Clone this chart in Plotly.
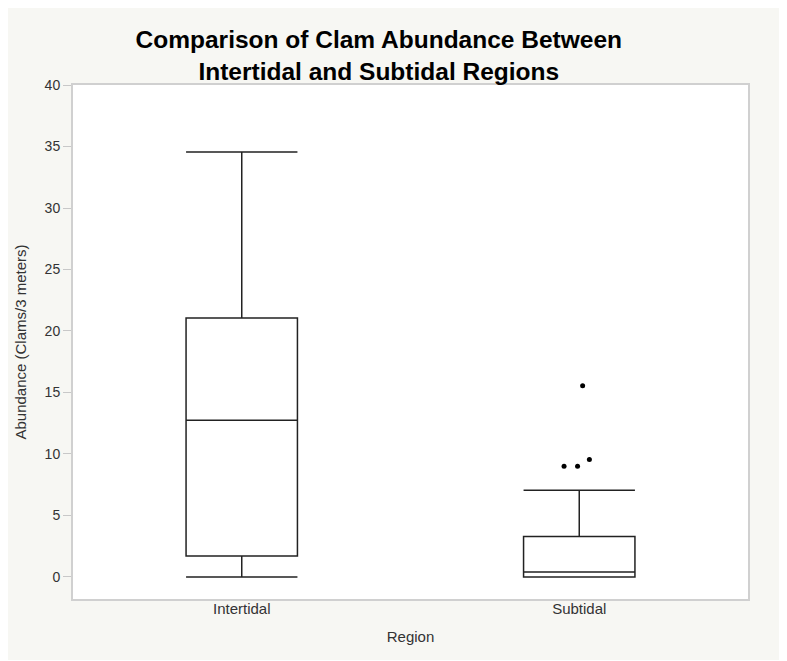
import plotly.graph_objects as go

# Data
regions = ["Intertidal", "Subtidal"]
lower_whisker = [0.0, 0.0]
q1 = [1.7, 0.0]
median = [12.75, 0.4]
q3 = [21.05, 3.3]
upper_whisker = [34.55, 7.05]

outlier_region = ["Subtidal", "Subtidal", "Subtidal", "Subtidal"]
outlier_values = [15.55, 9.0, 9.0, 9.55]
outlier_jitter = [0.01, -0.045, -0.005, 0.03]

title_text = "Comparison of Clam Abundance Between<br>Intertidal and Subtidal Regions"
x_title = "Region"
y_title = "Abundance (Clams/3 meters)"
y_ticks = [0, 5, 10, 15, 20, 25, 30, 35, 40]

pos = {r: i for i, r in enumerate(regions)}

fig = go.Figure()
fig.add_trace(go.Box(
    x=[pos[r] for r in regions],
    q1=q1, median=median, q3=q3,
    lowerfence=lower_whisker, upperfence=upper_whisker,
    width=0.33,
    whiskerwidth=1,
    fillcolor="rgba(0,0,0,0)",
    line=dict(color="#222222", width=1.5),
    boxpoints=False,
    showlegend=False,
    hoverinfo="skip",
))
fig.add_trace(go.Scatter(
    x=[pos[r] + j for r, j in zip(outlier_region, outlier_jitter)],
    y=outlier_values,
    mode="markers",
    marker=dict(color="#000000", size=5),
    showlegend=False,
    hoverinfo="skip",
))

bg = "#f7f7f3"
fig.update_layout(
    width=779, height=652,
    margin=dict(l=62, r=39, t=77, b=61),
    paper_bgcolor=bg,
    plot_bgcolor="white",
    font=dict(family="Liberation Sans, Arial, sans-serif", color="#333333", size=14),
    title=dict(
        text="<b>" + title_text + "</b>",
        x=0.476, xanchor="center",
        y=0.939, yanchor="middle",
        font=dict(size=24.5, color="#000000"),
    ),
    xaxis=dict(
        range=[-0.5, 1.5],
        tickmode="array", tickvals=[pos[r] for r in regions], ticktext=regions,
        ticks="", showgrid=False, zeroline=False,
        ticklabelstandoff=-5,
        showline=True, linecolor="#d0d0d0", linewidth=2, mirror=True,
        title=dict(text=x_title, standoff=15, font=dict(size=15, color="#333333")),
        tickfont=dict(size=15, color="#333333"),
    ),
    yaxis=dict(
        range=[-1.79, 40],
        tickmode="array", tickvals=y_ticks,
        ticks="outside", ticklen=8, tickcolor="#c8c8c8", tickwidth=1,
        showgrid=False, zeroline=False,
        showline=True, linecolor="#d0d0d0", linewidth=2, mirror=True,
        title=dict(text=y_title, standoff=14, font=dict(size=15, color="#333333")),
        tickfont=dict(size=14, color="#333333"),
    ),
)

fig.write_html("out.html")
